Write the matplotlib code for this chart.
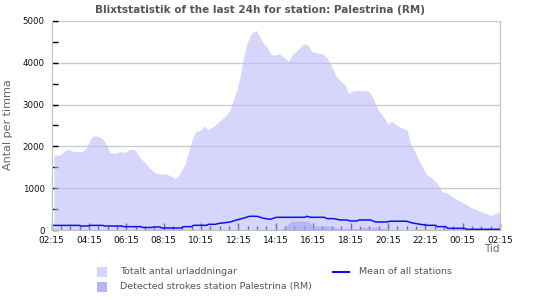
import matplotlib
matplotlib.use("Agg")
import matplotlib.pyplot as plt
from matplotlib.patches import Rectangle
from matplotlib.lines import Line2D

# ---- data (hours after 02:15) ----
total_hours = [0.13, 0.46, 0.63, 0.87, 1.17, 1.44, 1.65, 1.88, 2.06, 2.24, 2.51, 2.78, 2.96,
               3.13, 3.40, 3.67, 3.94, 4.20, 4.47, 4.74, 5.01, 5.28, 5.54, 5.81, 6.08, 6.35,
               6.61, 6.79, 6.97, 7.15, 7.33, 7.51, 7.72, 7.95, 8.19, 8.40, 8.67, 9.03, 9.38,
               9.56, 9.74, 9.92, 10.10, 10.27, 10.45, 10.63, 10.81, 10.95, 11.13, 11.35, 11.53,
               11.74, 11.97, 12.19, 12.42, 12.68, 12.92, 13.22, 13.49, 13.70, 13.94, 14.20,
               14.47, 14.74, 14.95, 15.19, 15.42, 15.72, 15.90, 16.17, 16.43, 16.70, 16.97,
               17.06, 17.24, 17.42, 17.60, 17.81, 17.99, 18.22, 18.49, 18.76, 19.02, 19.20,
               19.38, 19.65, 19.92, 20.10, 20.36, 20.63, 20.90, 21.17, 21.44, 21.79, 22.15,
               22.42, 22.77, 23.13, 23.49, 23.67, 23.93, 24.00]
total_values = [1790, 1790, 1865, 1937, 1880, 1873, 1873, 1968, 2159, 2246, 2238, 2159, 2024,
                1849, 1841, 1873, 1860, 1929, 1920, 1730, 1603, 1468, 1373, 1341, 1341, 1302,
                1222, 1294, 1429, 1587, 1865, 2143, 2357, 2381, 2484, 2400, 2476, 2616, 2760,
                2880, 3120, 3360, 3680, 4120, 4440, 4656, 4736, 4776, 4640, 4456, 4384,
                4200, 4184, 4216, 4136, 4040, 4216, 4320, 4456, 4430, 4264, 4240,
                4216, 4120, 3960, 3720, 3576, 3464, 3264, 3336, 3336, 3336, 3320,
                3280, 3120, 2920, 2800, 2680, 2536, 2600, 2496, 2440, 2400, 2080,
                1936, 1680, 1440, 1320, 1240, 1120, 920, 880, 800, 704, 624,
                544, 480, 416, 352, 376, 424, 430]

station_hours = [0.0, 4.9, 5.1, 6.8, 7.0, 12.3, 12.87, 13.76, 13.94, 15.01, 15.28, 15.6,
                 16.5, 16.6, 17.4, 17.6, 17.8, 18.0, 24.0]
station_values = [0, 0, 20, 20, 0, 0, 216, 216, 100, 100, 45, 32,
                  32, 65, 65, 40, 40, 0, 0]

mean_hours = [0.13, 1.5, 1.6, 1.95, 2.05, 2.75, 2.85, 3.75, 3.85, 4.8, 4.9, 5.35, 5.45, 5.8,
              5.9, 6.95, 7.05, 7.5, 7.6, 8.3, 8.4, 8.75, 9.0, 9.55, 9.9, 10.25, 10.6, 11.0,
              11.35, 11.7, 12.05, 13.55, 13.67, 13.85, 14.6, 14.75, 15.1, 15.45, 15.8, 16.0,
              16.35, 16.45, 17.06, 17.35, 17.95, 18.13, 19.0, 19.3, 19.74, 20.1, 20.55,
              20.65, 21.1, 21.2, 22.1, 22.2, 24.0]
mean_values = [110, 110, 96, 96, 110, 110, 96, 96, 80, 80, 60, 60, 72, 72,
               48, 48, 80, 80, 112, 112, 136, 136, 160, 190, 240, 280, 328, 328,
               280, 256, 304, 304, 328, 304, 304, 272, 272, 240, 240, 216,
               216, 240, 240, 192, 192, 210, 210, 168, 136, 112, 112,
               80, 80, 40, 40, 16, 16]

x_tick_labels = ["02:15", "04:15", "06:15", "08:15", "10:15", "12:15", "14:15",
                 "16:15", "18:15", "20:15", "22:15", "00:15", "02:15"]
y_ticks = [0, 1000, 2000, 3000, 4000, 5000]

title = "Blixtstatistik of the last 24h for station: Palestrina (RM)"

# ---- colors ----
c_total = (187/255, 187/255, 250/255)
c_station = (160/255, 160/255, 245/255)
c_line = "#1010ee"

fig = plt.figure(figsize=(5.5, 3.0), dpi=100)
ax = fig.add_axes([51.5/550, 1-230/300, (500-51.5)/550, (230-21)/300])

ax.set_xlim(0, 24)
ax.set_ylim(0, 5000)
ax.set_yticks(y_ticks)
ax.set_yticks([500, 1500, 2500, 3500, 4500], minor=True)
ax.set_xticks(list(range(0, 25, 2)))
ax.set_xticklabels(x_tick_labels)
ax.set_xticks([h/2 for h in range(49) if h % 4 != 0], minor=True)

ax.grid(axis="y", which="major", color="#cccccc", linewidth=1, zorder=0)
ax.set_axisbelow(True)

ax.fill_between(total_hours, total_values, 0, color=c_total, alpha=0.6, linewidth=0, zorder=2)
ax.fill_between(station_hours, station_values, 0, color=c_station, alpha=0.6, linewidth=0, zorder=3)
ax.plot(mean_hours, mean_values, color=c_line, linewidth=1.1, zorder=4)

ax.spines["top"].set_visible(False)
ax.spines["left"].set_color("#c0c0c0")
ax.spines["right"].set_color("#c0c0c0")
ax.spines["bottom"].set_color("#c0c0c0")

ax.tick_params(axis="y", which="both", direction="in", length=4, width=1, color="black",
               labelsize=6.2, pad=5, labelcolor="#111111")
ax.tick_params(axis="x", which="major", direction="in", length=5, width=1, color="black",
               labelsize=6.5, pad=4, labelcolor="#111111")
ax.tick_params(axis="x", which="minor", direction="in", length=3, width=1, color="black")

fig.text(260/550, 1-10/300, title, ha="center", va="center", fontsize=7.5,
         fontweight="bold", color="#555555")
fig.text(8/550, 1-125/300, "Antal per timma", rotation=90, ha="center", va="center",
         fontsize=8, color="#666666")
fig.text(492/550, 1-249/300, "Tid", ha="center", va="center", fontsize=7.5, color="#666666")

# ---- legend ----
def sq(x, y, color):
    fig.patches.append(Rectangle((x/550, 1-(y+5)/300), 10/550, 10/300, transform=fig.transFigure,
                                 facecolor=color, edgecolor="none"))

sq(97, 271.5, (214/255, 214/255, 252/255))
sq(97, 286.5, (180/255, 180/255, 248/255))
fig.text(120/550, 1-271.5/300, "Totalt antal urladdningar", ha="left", va="center",
         fontsize=6.8, color="#555555")
fig.text(120/550, 1-286.5/300, "Detected strokes station Palestrina (RM)", ha="left",
         va="center", fontsize=6.8, color="#555555")
fig.lines.append(Line2D([333/550, 349/550], [1-271.5/300, 1-271.5/300], transform=fig.transFigure,
                        color=c_line, linewidth=1.5))
fig.text(359/550, 1-271.5/300, "Mean of all stations", ha="left", va="center",
         fontsize=6.8, color="#555555")

fig.savefig("out.png", dpi=100)
